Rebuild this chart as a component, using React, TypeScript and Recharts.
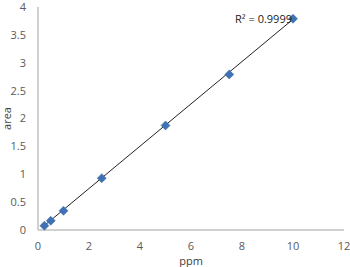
import { ScatterChart, Scatter, XAxis, YAxis, ReferenceDot, Label } from 'recharts';

const ppm = [0.25, 0.5, 1, 2.5, 5, 7.5, 10];
const area = [0.077, 0.166, 0.345, 0.93, 1.875, 2.79, 3.79];
const trendX = [0.25, 10];
const trendY = [0.08, 3.78];
const xTicks = [0, 2, 4, 6, 8, 10, 12];
const yTicks = [0, 0.5, 1, 1.5, 2, 2.5, 3, 3.5, 4];
const rSquared = 'R² = 0.9999';

const points = ppm.map((x, i) => ({ x, y: area[i] }));
const trend = trendX.map((x, i) => ({ x, y: trendY[i] }));

const font = '"Open Sans", sans-serif';
const tick = { fill: '#595959', fontSize: 11, fontFamily: font };

const Diamond = (props: any) => {
  const { cx, cy } = props;
  const r = 4.5;
  return (
    <path
      d={`M${cx},${cy - r}L${cx + r},${cy}L${cx},${cy + r}L${cx - r},${cy}Z`}
      fill="#3e72b5"
      stroke="#36649e"
      strokeWidth={0.5}
    />
  );
};

export default function App() {
  return (
    <div style={{ position: 'absolute', left: 0, top: 0, width: 350, height: 267, background: '#fff' }}>
      <ScatterChart width={350} height={267} margin={{ top: 7, right: 6, bottom: 10, left: 4 }}>
        <XAxis
          type="number"
          dataKey="x"
          domain={[0, 12]}
          ticks={xTicks}
          tick={tick}
          tickLine={false}
          axisLine={{ stroke: '#c0c0c0', strokeWidth: 1.5 }}
          height={27}
          tickMargin={6}
        >
          <Label value="ppm" position="insideBottom" offset={-8} style={{ fill: '#404040', fontSize: 11, fontFamily: font }} />
        </XAxis>
        <YAxis
          type="number"
          dataKey="y"
          domain={[0, 4]}
          ticks={yTicks}
          tick={tick}
          tickLine={false}
          axisLine={{ stroke: '#c0c0c0', strokeWidth: 1.5 }}
          width={34}
          tickMargin={6}
        >
          <Label value="area" angle={-90} position="insideLeft" offset={3} style={{ fill: '#404040', fontSize: 11, fontFamily: font, textAnchor: 'middle' }} />
        </YAxis>
        <Scatter data={trend} line={{ stroke: '#222', strokeWidth: 1 }} shape={() => null} isAnimationActive={false} />
        <Scatter data={points} shape={Diamond} isAnimationActive={false} />
        <ReferenceDot x={trendX[1]} y={area[6]} r={0} fill="none" stroke="none">
          <Label value={rSquared} position="left" offset={1} style={{ fill: '#222', fontSize: 11, fontFamily: font }} />
        </ReferenceDot>
      </ScatterChart>
    </div>
  );
}
